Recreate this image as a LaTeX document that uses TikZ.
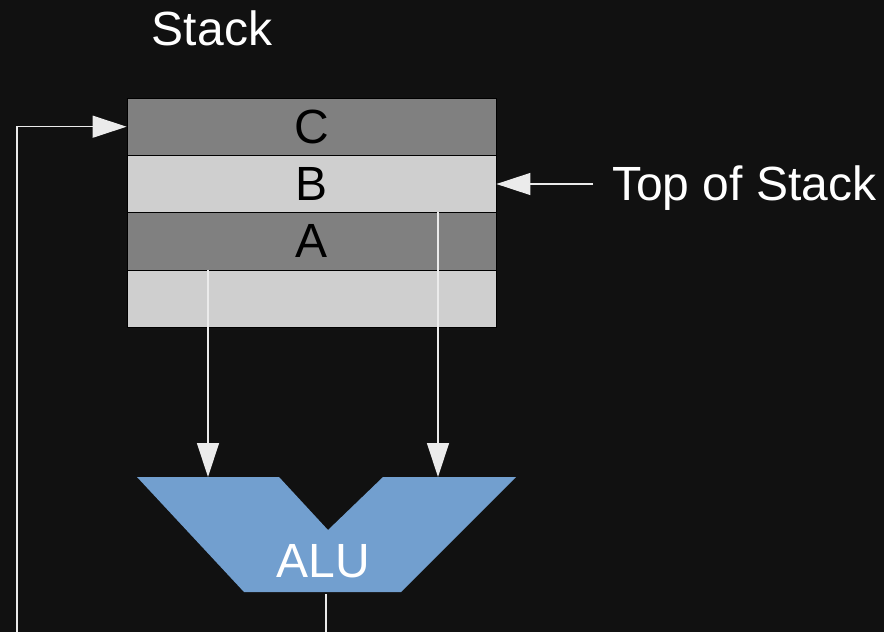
\documentclass[tikz,border=0pt]{standalone}
\usepackage{fontspec}
\setmainfont{Liberation Sans}
\usetikzlibrary{arrows.meta, positioning}
\definecolor{bgdark}{HTML}{111111}
\definecolor{cellgray}{HTML}{808080}
\definecolor{celllight}{HTML}{CFCFCF}
\definecolor{alublue}{HTML}{729FCF}
\newcommand{\bigfont}{\fontsize{48}{57}\selectfont}
\tikzstyle{cell} = [draw=black, line width=0.8pt, minimum width=369pt, minimum height=57.3pt, inner sep=0pt, font=\bigfont, text=black]
\tikzstyle{label} = [inner sep=0pt, font=\bigfont, text=white]
\tikzstyle{wire} = [draw=white!92!black, line width=1.3pt, -{Triangle[length=34pt, width=22pt]}]

\begin{document}
\begin{tikzpicture}[x=1pt, y=-1pt]
        \fill[bgdark] (0,0) rectangle (884,632);
        \useasboundingbox (0,0) rectangle (884,632);

        % stack cells
        \node[cell, fill=cellgray] (rowC) at (311.5,126.7) {C};
        \node[cell, fill=celllight, below=-0.8pt of rowC] (rowB) {B};
        \node[cell, fill=cellgray, below=-0.8pt of rowB] (rowA) {A};
        \node[cell, fill=celllight, below=-0.8pt of rowA] (rowE) {};

        \node[label, anchor=base] (title) at (212,45) {Stack};
        \node[label, anchor=base west] (tos) at (612,200) {Top of Stack};

        % ALU
        \fill[alublue] (137,477) -- (279,477) -- (328,530) -- (383,477) -- (516,477)
            -- (401,592) -- (244,592) -- cycle;
        \node[label, anchor=base] (alu) at (323,577) {ALU};

        \coordinate (inL) at (208,477);
        \coordinate (inR) at (438,477);
        \coordinate (out) at (326,632);
        \coordinate (fbk) at (17,632);

        \draw[wire] (rowE.north -| inL) -- (inL);
        \draw[wire] (rowA.north -| inR) -- (inR);
        \draw[wire] ([xshift=-19pt]tos.west |- rowB.east) -- (rowB.east);
        \draw[wire, -] (out |- 0,594) -- (out);
        \draw[wire] (fbk) |- (rowC.west);
    \end{tikzpicture}
\end{document}
